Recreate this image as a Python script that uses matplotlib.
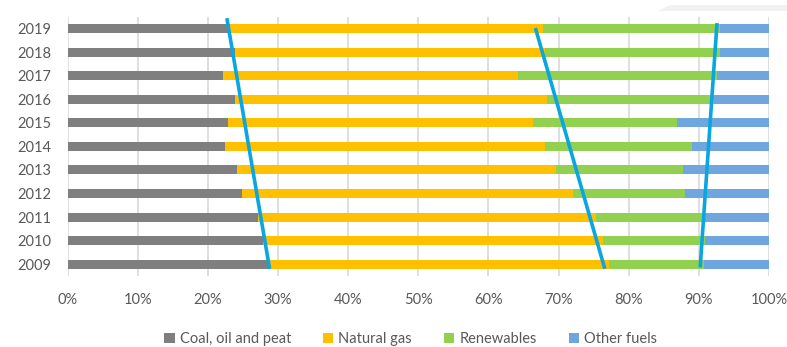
import matplotlib
matplotlib.use("Agg")
import matplotlib.pyplot as plt
from matplotlib.patches import Polygon
import numpy as np

plt.rcParams['font.family'] = ['Lato', 'DejaVu Sans']

years = ["2009", "2010", "2011", "2012", "2013", "2014", "2015", "2016", "2017", "2018", "2019"]
coal_oil_peat = [28.8, 27.9, 27.1, 24.9, 24.1, 22.5, 22.8, 23.9, 22.2, 23.8, 23.2]
natural_gas = [48.4, 48.5, 48.2, 47.2, 45.5, 45.6, 43.5, 44.5, 42.0, 44.2, 44.6]
renewables = [13.6, 14.5, 15.4, 16.0, 18.1, 21.0, 20.6, 23.7, 28.4, 25.0, 25.2]
other_fuels = [9.2, 9.1, 9.3, 11.9, 12.3, 10.9, 13.1, 7.9, 7.4, 7.0, 7.0]

series_names = ["Coal, oil and peat", "Natural gas", "Renewables", "Other fuels"]
series_colors = ["#7F7F7F", "#FFC000", "#92D050", "#70A6DE"]

# trend lines: (share at 2009 end, share at 2019 end)
trend_coal = [28.8, 22.7]
trend_gas = [76.6, 66.7]
trend_other = [90.2, 92.6]
trend_y = [[-0.2, 10.45], [-0.2, 10.03], [-0.14, 10.24]]

fig = plt.figure(figsize=(7.87, 3.47), dpi=100)
ax = fig.add_axes([0.086, 0.205, 0.891, 0.746])

y = np.arange(len(years))
left = np.zeros(len(years))
for name, vals, col in zip(series_names,
                           [coal_oil_peat, natural_gas, renewables, other_fuels],
                           series_colors):
    ax.barh(y, vals, left=left, height=0.38, color=col, label=name, zorder=2)
    left += np.array(vals)

for xs, ys in zip([trend_coal, trend_gas, trend_other], trend_y):
    ax.plot(xs, ys, color="#0AA6E0", lw=2.6, solid_capstyle="butt", zorder=4)

ax.set_xlim(0, 100)
ax.set_ylim(-0.5, 10.5)
ax.set_yticks(y)
ax.set_yticklabels(years)
ax.set_xticks(np.arange(0, 101, 10))
ax.set_xticklabels([f"{v}%" for v in range(0, 101, 10)])
ax.grid(axis="x", color="#D9D9D9", lw=1.2, zorder=0)
ax.set_axisbelow(True)
for s in ax.spines.values():
    s.set_visible(False)
ax.tick_params(axis="both", length=0, labelsize=10.5, labelcolor="#595959")
ax.tick_params(axis="y", pad=12)
ax.tick_params(axis="x", pad=12)

leg = fig.legend(loc="center", bbox_to_anchor=(0.522, 0.022), ncol=4, frameon=False,
                 fontsize=10.5, handlelength=0.7, handleheight=0.7, handletextpad=0.35,
                 columnspacing=2.2)
for t in leg.get_texts():
    t.set_color("#595959")

# faint shading strip along the top-right edge
W, H = 787, 347
fig.patches.append(Polygon([(670 / W, 1 - 5 / H), (1, 1 - 5 / H), (1, 1 - 11 / H), (658 / W, 1 - 11 / H)],
                           closed=True, transform=fig.transFigure, facecolor="#F2F2F2",
                           edgecolor="none", zorder=0))

fig.savefig("out.png", dpi=100)
